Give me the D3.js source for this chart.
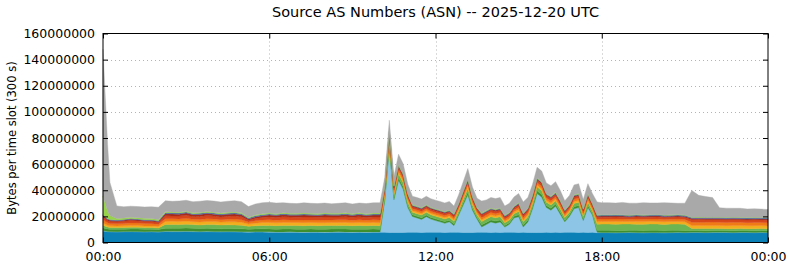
<!DOCTYPE html>
<html>
<head>
<meta charset="utf-8">
<script src="https://cdn.jsdelivr.net/npm/d3@7"></script>
<style>
body { margin: 0; background: #fff; }
text { font-family: "DejaVu Sans", sans-serif; fill: #000; }
</style>
</head>
<body>
<script>
// time slots in minutes after 00:00 UTC (finer around the start and the afternoon burst)
var slotMinutes = [0, 5, 10].concat(d3.range(15, 601, 15), d3.range(610, 1081, 10), d3.range(1095, 1441, 15));

// values per slot, millions of bytes
var asBlue = [
  8.8, 8.6, 8.3,
  8.2, 8.1, 8.2, 8.3, 8.2, 8.1, 8.2, 8.0, 8.4, 8.3,
  8.3, 8.4, 8.3, 8.2, 8.3, 8.2, 8.1, 8.2, 8.1, 8.0,
  7.9, 8.0, 8.0, 7.9, 7.8, 7.8, 7.9, 7.8, 7.7, 7.8,
  7.8, 7.7, 7.8, 7.9, 7.8, 7.7, 7.8, 7.7, 7.8, 7.8,
  7.8, 7.6, 7.7, 7.6, 7.7, 7.8, 7.9, 7.8, 7.7, 7.8, 7.9, 7.8,
  7.8, 7.7, 7.8, 7.9, 7.8, 7.7, 7.6, 7.7, 7.8, 7.9, 7.8, 7.7,
  7.8, 7.7, 7.8, 7.9, 7.8, 7.7, 7.8, 7.7, 7.6, 7.6, 7.7, 7.8,
  7.7, 7.8, 7.7, 7.8, 7.9, 7.8, 7.7, 7.8, 7.7, 7.8, 7.5, 7.5,
  7.5, 7.4, 7.5, 7.6, 7.5, 7.4, 7.5, 7.5, 7.4, 7.5, 7.6, 7.5,
  7.6, 7.6, 7.5, 7.6, 7.7, 7.6, 7.5, 7.6, 7.6, 7.5, 7.6, 7.5
];
var asLightBlue = [
  0.2, 0.2, 0.2,
  0.2, 0.2, 0.2, 0.2, 0.2, 0.2, 0.2, 0.2, 0.3, 0.3,
  0.3, 0.3, 0.3, 0.3, 0.3, 0.3, 0.3, 0.3, 0.3, 0.3,
  0.3, 0.3, 0.3, 0.3, 0.3, 0.3, 0.3, 0.3, 0.3, 0.3,
  0.3, 0.3, 0.3, 0.3, 0.3, 0.3, 0.3, 0.3, 0.3, 0.3,
  24, 65, 25, 40, 33, 19, 12, 11, 10, 12, 10, 9,
  8, 7, 8, 5, 13, 21, 29, 17, 10, 4, 6, 8,
  7, 8, 4, 6, 11, 12, 4, 8, 18, 30, 27, 19,
  17, 20, 14, 8, 12, 18, 19, 9, 19, 13, 0.3, 0.2,
  0.2, 0.2, 0.2, 0.2, 0.2, 0.2, 0.2, 0.2, 0.2, 0.2, 0.2, 0.2,
  0.2, 0.2, 0.2, 0.2, 0.2, 0.2, 0.2, 0.2, 0.2, 0.2, 0.2, 0.2
];
var asDarkGreen = [
  2.2, 2.0, 1.9,
  1.8, 1.8, 1.7, 1.8, 1.9, 1.8, 1.8, 1.7, 2.3, 2.3,
  2.3, 2.4, 2.3, 2.2, 2.3, 2.3, 2.2, 2.3, 2.2, 2.2,
  2.0, 2.1, 2.2, 2.2, 2.1, 2.2, 2.2, 2.1, 2.2, 2.2,
  2.1, 2.2, 2.2, 2.1, 2.2, 2.2, 2.1, 2.2, 2.2, 2.1,
  1.6, 2.2, 1.6, 2.0, 2.0, 1.6, 1.3, 1.3, 1.3, 1.3, 1.3, 1.3,
  1.3, 1.3, 1.3, 1.3, 1.3, 1.6, 2.0, 1.6, 1.3, 1.6, 1.6, 1.6,
  1.6, 1.6, 1.3, 1.3, 1.3, 1.6, 1.6, 1.6, 1.6, 2.0, 2.0, 1.6,
  1.6, 1.6, 1.6, 1.3, 1.3, 1.6, 1.6, 1.3, 1.6, 1.3, 1.6, 1.6,
  1.6, 1.6, 1.5, 1.6, 1.6, 1.5, 1.6, 1.6, 1.5, 1.6, 1.6, 1.5,
  1.3, 1.3, 1.3, 1.3, 1.3, 1.3, 1.3, 1.3, 1.3, 1.3, 1.3, 1.3
];
var asGreen = [
  2.0, 1.6, 1.4,
  1.3, 1.3, 1.4, 1.3, 1.4, 1.3, 1.3, 1.2, 2.8, 2.9,
  2.8, 2.9, 2.8, 2.7, 2.8, 2.9, 2.8, 2.7, 2.8, 2.7,
  2.2, 2.4, 2.6, 2.7, 2.7, 2.8, 2.7, 2.8, 2.7, 2.8,
  2.7, 2.8, 2.7, 2.8, 2.8, 2.7, 2.8, 2.7, 2.8, 2.7,
  2.5, 3.2, 2.5, 3.0, 3.0, 2.5, 2.0, 2.0, 2.0, 2.0, 2.0, 2.0,
  2.0, 2.0, 2.0, 2.0, 2.0, 2.5, 3.0, 2.5, 2.0, 2.5, 2.5, 2.5,
  2.5, 2.5, 2.0, 2.0, 2.0, 2.5, 2.5, 2.5, 2.5, 3.0, 3.0, 2.5,
  2.5, 2.5, 2.5, 2.0, 2.0, 2.5, 2.5, 2.0, 2.5, 2.0, 4.6, 4.8,
  4.8, 4.7, 4.9, 4.8, 4.7, 4.8, 4.9, 4.8, 4.7, 4.8, 4.8, 4.7,
  1.6, 1.6, 1.7, 1.6, 1.6, 1.5, 1.6, 1.6, 1.5, 1.6, 1.6, 1.5
];
var asYellow = [
  1.8, 1.6, 1.4,
  1.3, 1.2, 1.3, 1.4, 1.3, 1.3, 1.2, 1.2, 2.3, 2.4,
  2.3, 2.4, 2.2, 2.3, 2.4, 2.3, 2.2, 2.3, 2.4, 2.3,
  1.7, 2.0, 2.2, 2.3, 2.2, 2.3, 2.2, 2.3, 2.3, 2.2,
  2.3, 2.2, 2.3, 2.2, 2.3, 2.2, 2.3, 2.2, 2.3, 2.2,
  1.4, 1.6, 1.4, 1.5, 1.5, 1.4, 1.2, 1.2, 1.2, 1.2, 1.2, 1.2,
  1.2, 1.2, 1.2, 1.2, 1.2, 1.4, 1.5, 1.4, 1.2, 1.4, 1.4, 1.4,
  1.4, 1.4, 1.2, 1.2, 1.2, 1.4, 1.4, 1.4, 1.4, 1.5, 1.5, 1.4,
  1.4, 1.4, 1.4, 1.2, 1.2, 1.4, 1.4, 1.2, 1.4, 1.2, 2.0, 2.0,
  2.0, 2.1, 2.0, 1.9, 2.0, 2.1, 2.0, 2.0, 2.1, 2.0, 1.9, 2.0,
  2.3, 2.4, 2.3, 2.3, 2.2, 2.3, 2.4, 2.3, 2.2, 2.3, 2.3, 2.2
];
var asOrange = [
  2.6, 2.2, 1.9,
  1.8, 1.7, 1.8, 2.0, 1.9, 1.8, 1.7, 1.6, 2.1, 2.0,
  2.0, 2.1, 1.9, 2.0, 2.1, 2.0, 1.9, 2.0, 2.1, 2.0,
  1.5, 1.8, 1.9, 2.0, 2.0, 2.1, 2.0, 2.0, 2.1, 2.0,
  2.0, 2.1, 2.0, 2.1, 2.0, 2.0, 2.1, 2.0, 2.0, 2.1,
  1.8, 2.0, 1.8, 1.9, 1.9, 1.8, 1.5, 1.5, 1.5, 1.5, 1.5, 1.5,
  1.5, 1.5, 1.5, 1.5, 1.5, 1.8, 1.9, 1.8, 1.5, 1.8, 1.8, 1.8,
  1.8, 1.8, 1.5, 1.5, 1.5, 1.8, 1.8, 1.8, 1.8, 1.9, 1.9, 1.8,
  1.8, 1.8, 1.8, 1.5, 1.5, 1.8, 1.8, 1.5, 1.8, 1.5, 1.8, 1.8,
  1.8, 1.9, 1.8, 1.7, 1.9, 1.8, 1.8, 1.9, 1.8, 1.7, 1.8, 1.8,
  2.5, 2.4, 2.5, 2.6, 2.5, 2.4, 2.5, 2.5, 2.4, 2.5, 2.4, 2.4
];
var asRed = [
  2.2, 1.9, 1.6,
  1.5, 1.5, 1.6, 1.8, 1.6, 1.5, 1.6, 1.4, 2.3, 2.1,
  2.2, 2.4, 2.1, 2.3, 2.4, 2.2, 2.1, 2.3, 2.4, 2.2,
  1.4, 1.8, 2.0, 2.2, 2.1, 2.3, 2.2, 2.1, 2.3, 2.2,
  2.1, 2.3, 2.2, 2.1, 2.3, 2.2, 2.3, 2.1, 2.2, 2.3,
  1.6, 1.8, 1.6, 1.7, 1.7, 1.6, 1.4, 1.4, 1.4, 1.4, 1.4, 1.4,
  1.4, 1.4, 1.4, 1.4, 1.4, 1.6, 1.7, 1.6, 1.4, 1.6, 1.6, 1.6,
  1.6, 1.6, 1.4, 1.4, 1.4, 1.6, 1.6, 1.6, 1.6, 1.7, 1.7, 1.6,
  1.6, 1.6, 1.6, 1.4, 1.4, 1.6, 1.6, 1.4, 1.6, 1.4, 1.5, 1.5,
  1.5, 1.6, 1.5, 1.4, 1.6, 1.5, 1.4, 1.6, 1.5, 1.5, 1.6, 1.5,
  2.0, 2.1, 2.0, 1.9, 2.0, 2.1, 2.0, 1.9, 2.0, 2.0, 1.9, 2.0
];
var asDarkRed = [
  1.0, 0.9, 0.9,
  0.9, 0.8, 0.9, 1.0, 0.9, 0.9, 0.8, 0.8, 1.5, 1.6,
  1.5, 1.6, 1.4, 1.5, 1.6, 1.5, 1.4, 1.5, 1.6, 1.5,
  1.0, 1.2, 1.3, 1.5, 1.4, 1.5, 1.4, 1.4, 1.5, 1.4,
  1.4, 1.5, 1.4, 1.4, 1.5, 1.4, 1.5, 1.4, 1.4, 1.5,
  0.9, 1.0, 0.9, 0.9, 0.9, 0.9, 0.8, 0.8, 0.8, 0.8, 0.8, 0.8,
  0.8, 0.8, 0.8, 0.8, 0.8, 0.9, 0.9, 0.9, 0.8, 0.9, 0.9, 0.9,
  0.9, 0.9, 0.8, 0.8, 0.8, 0.9, 0.9, 0.9, 0.9, 0.9, 0.9, 0.9,
  0.9, 0.9, 0.9, 0.8, 0.8, 0.9, 0.9, 0.8, 0.9, 0.8, 0.8, 0.8,
  0.8, 0.8, 0.8, 0.8, 0.8, 0.8, 0.8, 0.8, 0.8, 0.8, 0.8, 0.8,
  0.8, 0.8, 0.8, 0.8, 0.8, 0.8, 0.8, 0.8, 0.8, 0.8, 0.8, 0.8
];
var asSlate = [
  0.6, 0.6, 0.6,
  0.6, 0.6, 0.6, 0.6, 0.6, 0.6, 0.6, 0.6, 0.8, 0.8,
  0.8, 0.8, 0.8, 0.8, 0.8, 0.8, 0.8, 0.8, 0.8, 0.8,
  0.7, 0.8, 0.8, 0.8, 0.8, 0.8, 0.8, 0.8, 0.8, 0.8,
  0.8, 0.8, 0.8, 0.8, 0.8, 0.8, 0.8, 0.8, 0.8, 0.8,
  0.5, 0.6, 0.5, 0.5, 0.5, 0.5, 0.5, 0.5, 0.5, 0.5, 0.5, 0.5,
  0.5, 0.5, 0.5, 0.5, 0.5, 0.5, 0.5, 0.5, 0.5, 0.5, 0.5, 0.5,
  0.5, 0.5, 0.5, 0.5, 0.5, 0.5, 0.5, 0.5, 0.5, 0.5, 0.5, 0.5,
  0.5, 0.5, 0.5, 0.5, 0.5, 0.5, 0.5, 0.5, 0.5, 0.5, 0.8, 0.8,
  0.8, 0.8, 0.8, 0.8, 0.8, 0.8, 0.8, 0.8, 0.8, 0.8, 0.8, 0.8,
  0.8, 0.8, 0.8, 0.8, 0.8, 0.8, 0.8, 0.8, 0.8, 0.8, 0.8, 0.8
];
var asLime = [
  14.0, 10.0, 6.0,
  3.0, 1.2, 1.0, 1.0, 1.0, 1.0, 1.0, 1.0, 0.7, 0.7,
  0.7, 0.7, 0.7, 0.7, 0.7, 0.7, 0.7, 0.7, 0.7, 0.7,
  0.6, 0.7, 0.7, 0.7, 0.7, 0.7, 0.7, 0.7, 0.7, 0.7,
  0.7, 0.7, 0.7, 0.7, 0.7, 0.7, 0.7, 0.7, 0.7, 0.7,
  0.5, 0.6, 0.5, 0.5, 0.5, 0.5, 0.4, 0.4, 0.4, 0.4, 0.4, 0.4,
  0.4, 0.4, 0.4, 0.4, 0.4, 0.5, 0.5, 0.5, 0.4, 0.5, 0.5, 0.5,
  0.5, 0.5, 0.4, 0.4, 0.4, 0.5, 0.5, 0.5, 0.5, 0.5, 0.5, 0.5,
  0.5, 0.5, 0.5, 0.4, 0.4, 0.5, 0.5, 0.4, 0.5, 0.4, 0.3, 0.3,
  0.3, 0.3, 0.3, 0.3, 0.3, 0.3, 0.3, 0.3, 0.3, 0.3, 0.3, 0.3,
  0.3, 0.3, 0.3, 0.3, 0.3, 0.3, 0.3, 0.3, 0.3, 0.3, 0.3, 0.3
];
var asOther = [
  112.6, 81.4, 50.8,
  25.4, 9.6, 8.6, 8.4, 8.5, 8.7, 9.0, 9.3, 8.5, 8.1,
  8.6, 8.3, 8.4, 8.6, 8.5, 8.5, 8.5, 8.5, 8.6, 8.5,
  8.2, 8.4, 8.5, 8.2, 8.1, 7.7, 7.6, 7.5, 7.8, 7.6,
  7.6, 7.6, 7.2, 7.6, 7.7, 7.3, 7.5, 7.7, 7.9, 8.0,
  7.0, 8.0, 7.0, 8.0, 7.5, 7.0, 6.5, 6.5, 6.5, 6.5, 6.5, 6.5,
  6.5, 6.5, 6.5, 6.0, 6.5, 7.0, 8.0, 7.0, 7.0, 9.0, 8.0, 8.0,
  8.0, 8.0, 7.0, 7.0, 7.0, 7.0, 8.5, 8.0, 8.0, 8.0, 8.0, 8.0,
  8.0, 8.0, 7.5, 7.0, 7.0, 7.5, 7.5, 7.0, 7.5, 7.5, 9.8, 9.2,
  9.2, 8.8, 9.4, 9.0, 8.7, 9.3, 9.0, 8.8, 9.4, 9.1, 8.6, 9.0,
  20.5, 16.6, 15.8, 15.0, 7.2, 7.0, 6.8, 6.9, 6.6, 6.5, 6.4, 6.2
];

var seriesList = [asBlue, asLightBlue, asDarkGreen, asGreen, asYellow, asOrange, asRed, asDarkRed, asSlate, asLime, asOther];
var seriesKeys = ["s0", "s1", "s2", "s3", "s4", "s5", "s6", "s7", "s8", "s9", "other"];
var seriesColors = ["#0a80b6", "#8cc5e6", "#3f8f2f", "#6cb552", "#f2ae1e", "#f07b16", "#d8461b", "#aa2a1a", "#4e64a6", "#98d44a", "#a9a9a9"];

var yTicks = [0, 20000000, 40000000, 60000000, 80000000, 100000000, 120000000, 140000000, 160000000];
var xTicks = [0, 360, 720, 1080, 1440];
var xTickLabels = ["00:00", "06:00", "12:00", "18:00", "00:00"];

var width = 790, height = 267;
var margin = {left: 103, right: 22, top: 33.5, bottom: 24.5};

var rows = slotMinutes.map(function(m, i) {
	var row = {minute: m};
	seriesKeys.forEach(function(k, j) { row[k] = seriesList[j][i] * 1e6; });
	return row;
});

var svg = d3.select("body").append("svg")
	.attr("width", width)
	.attr("height", height);

var x = d3.scaleLinear().domain([0, 1440]).range([margin.left, width - margin.right]);
var y = d3.scaleLinear().domain([0, 160000000]).range([height - margin.bottom, margin.top]);

// dotted grid
var grid = svg.append("g");
grid.selectAll(".gy").data(yTicks.slice(1, -1)).enter().append("line")
	.attr("x1", x(0)).attr("x2", x(1440))
	.attr("y1", function(d){ return Math.round(y(d)) + 0.5; })
	.attr("y2", function(d){ return Math.round(y(d)) + 0.5; })
	.attr("stroke", "#b4b4b4").attr("stroke-dasharray", "1,3");
grid.selectAll(".gx").data(xTicks.slice(1, -1)).enter().append("line")
	.attr("y1", y(0)).attr("y2", y(160000000))
	.attr("x1", function(d){ return Math.round(x(d)) + 0.5; })
	.attr("x2", function(d){ return Math.round(x(d)) + 0.5; })
	.attr("stroke", "#b4b4b4").attr("stroke-dasharray", "1,3");

var stacked = d3.stack().keys(seriesKeys)(rows);

var area = d3.area()
	.x(function(d){ return x(d.data.minute); })
	.y0(function(d){ return y(d[0]); })
	.y1(function(d){ return y(d[1]); });

svg.append("g").selectAll("path")
	.data(stacked)
	.enter()
	.append("path")
	.attr("d", area)
	.attr("fill", function(d, i){ return seriesColors[i]; })
	.attr("stroke", function(d, i){ return seriesColors[i]; })
	.attr("stroke-width", 0.4);

// axes with inward ticks on all four sides
var fmt = d3.format("d");
svg.append("g")
	.attr("transform", "translate(" + x(0) + ",0)")
	.call(d3.axisLeft(y).tickValues(yTicks).tickFormat(fmt).tickSize(-5).tickPadding(8))
	.call(function(g){ g.select(".domain").remove(); g.selectAll("text").style("font-size", "12.5px").style("font-family", "DejaVu Sans"); });
svg.append("g")
	.attr("transform", "translate(" + x(1440) + ",0)")
	.call(d3.axisRight(y).tickValues(yTicks).tickFormat("").tickSize(-5))
	.call(function(g){ g.select(".domain").remove(); });
svg.append("g")
	.attr("transform", "translate(0," + y(0) + ")")
	.call(d3.axisBottom(x).tickValues(xTicks).tickFormat(function(d, i){ return xTickLabels[i]; }).tickSize(-5).tickPadding(10))
	.call(function(g){ g.select(".domain").remove(); g.selectAll("text").style("font-size", "12.5px").style("font-family", "DejaVu Sans"); });
svg.append("g")
	.attr("transform", "translate(0," + y(160000000) + ")")
	.call(d3.axisTop(x).tickValues(xTicks).tickFormat("").tickSize(-5))
	.call(function(g){ g.select(".domain").remove(); });

svg.append("rect")
	.attr("x", x(0)).attr("y", y(160000000))
	.attr("width", x(1440) - x(0)).attr("height", y(0) - y(160000000))
	.attr("fill", "none").attr("stroke", "#000").attr("stroke-width", 1);

svg.append("text")
	.attr("x", (x(0) + x(1440)) / 2).attr("y", 17)
	.attr("text-anchor", "middle")
	.style("font-size", "14.5px")
	.text("Source AS Numbers (ASN) -- 2025-12-20 UTC");

svg.append("text")
	.attr("transform", "translate(16," + (y(0) + y(160000000)) / 2 + ") rotate(-90)")
	.attr("text-anchor", "middle")
	.style("font-size", "11.5px")
	.text("Bytes per time slot (300 s)");
</script>
</body>
</html>
